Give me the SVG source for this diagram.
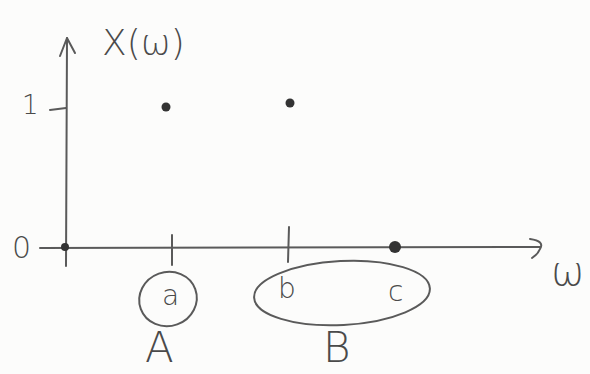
<svg xmlns="http://www.w3.org/2000/svg" width="590" height="374" viewBox="0 0 590 374">
<style>
.ln{stroke:#5a5a5a;stroke-width:2;fill:none;stroke-linecap:round;stroke-linejoin:round}
.t{font-family:"DejaVu Sans","Liberation Sans",sans-serif;fill:#4a4a4a;font-weight:200}
.dot{fill:#333}
</style>
<rect width="590" height="374" fill="#fcfcfb"/>
<g id="connectors">
<path class="ln" d="M67,38 L66,266"/>
<path class="ln" d="M60,56 L67,38 L75,53"/>
<path class="ln" d="M50,110 L66,108"/>
<path class="ln" d="M40,248 L540,247"/>
<path class="ln" d="M530,239 Q545,241 540,249 Q538,254 532,258"/>
<path class="ln" d="M172,235 L172,265"/>
<path class="ln" d="M289,227 L288,262"/>
</g>
<g id="origin">
<circle class="dot" cx="65" cy="247" r="4"/>
<text class="t" x="12" y="258" font-size="30">0</text>
</g>
<g id="ylabel">
<text class="t" x="102" y="55" font-size="36">X(ω)</text>
</g>
<g id="one">
<text class="t" x="22" y="114" font-size="26">1</text>
</g>
<g id="point-a">
<circle class="dot" cx="166" cy="107" r="4.5"/>
</g>
<g id="point-b">
<circle class="dot" cx="290" cy="103" r="4.5"/>
</g>
<g id="point-c">
<circle class="dot" cx="395" cy="247" r="6"/>
</g>
<g id="omega">
<text class="t" x="551" y="285" font-size="40">ω</text>
</g>
<g id="set-A">
<ellipse class="ln" cx="168" cy="299" rx="29" ry="27" transform="rotate(-20 168 299)"/>
<text class="t" x="162" y="305" font-size="28">a</text>
<text class="t" x="145" y="362" font-size="42">A</text>
</g>
<g id="set-B">
<ellipse class="ln" cx="342" cy="293" rx="88" ry="32" transform="rotate(-3 342 293)"/>
<text class="t" x="278" y="298" font-size="28">b</text>
<text class="t" x="388" y="301" font-size="28">c</text>
<text class="t" x="323" y="362" font-size="42">B</text>
</g>
</svg>
